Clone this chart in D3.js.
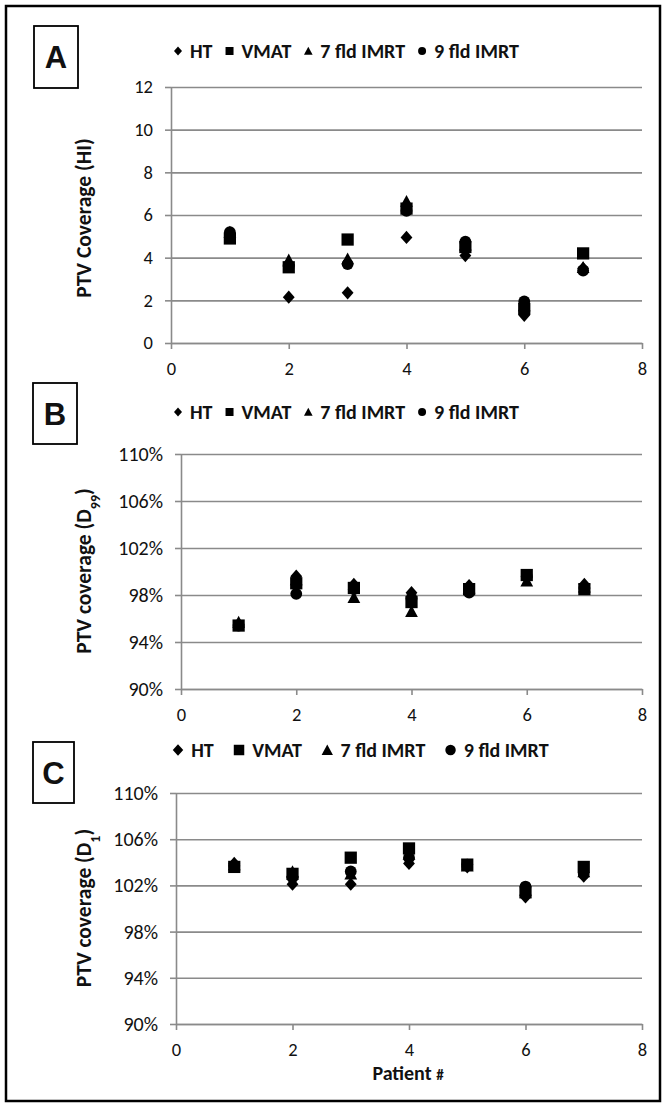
<!DOCTYPE html>
<html>
  <head>
    <meta charset="utf-8">
    <title>PTV coverage</title>
    <script src="https://d3js.org/d3.v7.min.js"></script>
    <style>
      body { margin: 0; background: #fff; }
      text { font-family: Carlito, Lato, "Open Sans", sans-serif; fill: #111; }
    </style>
  </head>
  <body>

  <script type="text/javascript">
    // data
    var patients = [1, 2, 3, 4, 5, 6, 7];
    var xTicks = [0, 2, 4, 6, 8];
    var hiTicks = [0, 2, 4, 6, 8, 10, 12];
    var pctTicks = [90, 94, 98, 102, 106, 110];
    var seriesNames = ['HT', 'VMAT', '7 fld IMRT', '9 fld IMRT'];

    // A: homogeneity index
    var hiHT   = [5.1, 2.15, 2.35, 4.95, 4.1, 1.3, 3.5];
    var hiVMAT = [4.9, 3.55, 4.85, 6.3, 4.5, 1.6, 4.2];
    var hi7fld = [5.2, 3.9, 3.95, 6.65, 4.6, 1.75, 3.55];
    var hi9fld = [5.2, 3.6, 3.7, 6.2, 4.75, 1.95, 3.4];

    // B: D99 (%)
    var d99HT   = [95.5, 99.6, 98.9, 98.2, 98.8, 99.5, 98.9];
    var d99VMAT = [95.4, 99.0, 98.6, 97.4, 98.5, 99.7, 98.5];
    var d997fld = [95.7, 99.3, 97.8, 96.6, 98.6, 99.2, 98.7];
    var d999fld = [95.4, 98.1, 98.5, 97.7, 98.2, 99.6, 98.6];

    // C: D1 (%)
    var d1HT   = [103.9, 102.1, 102.1, 103.9, 103.6, 101.0, 102.8];
    var d1VMAT = [103.6, 103.0, 104.4, 105.2, 103.8, 101.4, 103.6];
    var d17fld = [103.8, 103.2, 103.0, 104.7, 103.7, 101.6, 103.2];
    var d19fld = [103.7, 102.7, 103.2, 104.4, 103.8, 101.9, 103.0];

    var svg = d3.select('body')
                .append('svg')
                .attr('width', 665)
                .attr('height', 1106);

    svg.append('rect')
       .attr('x', 6).attr('y', 6)
       .attr('width', 654).attr('height', 1095)
       .attr('fill', '#fff')
       .attr('stroke', '#000')
       .attr('stroke-width', 2.5);

    /* marker shapes */
    var diamond = { draw: function(ctx, size) {
      var r = Math.sqrt(size) / 2;
      ctx.moveTo(0, -r * 1.12); ctx.lineTo(r, 0); ctx.lineTo(0, r * 1.12); ctx.lineTo(-r, 0); ctx.closePath();
    }};
    var square = { draw: function(ctx, size) {
      var r = Math.sqrt(size) / 2;
      ctx.rect(-r, -r, 2 * r, 2 * r);
    }};
    var triangle = { draw: function(ctx, size) {
      var r = Math.sqrt(size) / 2;
      ctx.moveTo(0, -r * 1.05); ctx.lineTo(r * 1.08, r * 0.95); ctx.lineTo(-r * 1.08, r * 0.95); ctx.closePath();
    }};
    var circle = { draw: function(ctx, size) {
      var r = Math.sqrt(size) / 2;
      ctx.moveTo(r, 0); ctx.arc(0, 0, r, 0, 2 * Math.PI);
    }};
    var shapes = [diamond, square, triangle, circle];

    var panels = [
      { letter: 'A', series: [hiHT, hiVMAT, hi7fld, hi9fld], ticks: hiTicks, domain: [0, 12], pct: false, tickFont: 18.5,
        x0: 171, x1: 642, top: 87, bottom: 343, box: [34, 26, 44, 62], legendY: 51, legendSize: 64, legendGap: 13,
        title: ['PTV Coverage (HI)'], titleY: 218 },
      { letter: 'B', series: [d99HT, d99VMAT, d997fld, d999fld], ticks: pctTicks, domain: [90, 110], pct: true, tickFont: 20,
        x0: 181, x1: 642, top: 454, bottom: 689, box: [33, 383, 44, 61], legendY: 412, legendSize: 64, legendGap: 13,
        title: ['PTV coverage (D', '99', ')'], titleY: 571 },
      { letter: 'C', series: [d1HT, d1VMAT, d17fld, d19fld], ticks: pctTicks, domain: [90, 110], pct: true, tickFont: 20,
        x0: 176, x1: 642, top: 793, bottom: 1024, box: [33, 742, 41, 61], legendY: 750, legendSize: 110, legendGap: 20,
        title: ['PTV coverage (D', '1', ')'], titleY: 908 }
    ];

    panels.forEach(function(p) {
      var g = svg.append('g');
      var x = d3.scaleLinear().domain([0, 8]).range([p.x0, p.x1]);
      var y = d3.scaleLinear().domain(p.domain).range([p.bottom, p.top]);

      // gridlines
      g.append('g')
       .attr('transform', 'translate(' + p.x0 + ',0)')
       .call(d3.axisLeft(y).tickValues(p.ticks).tickSize(-(p.x1 - p.x0)).tickFormat(''))
       .call(function(s) {
         s.select('.domain').remove();
         s.selectAll('line').attr('stroke', '#8a8a8a').attr('stroke-width', 1.6);
       });

      // y axis
      g.append('g')
       .attr('transform', 'translate(' + p.x0 + ',0)')
       .call(d3.axisLeft(y).tickValues(p.ticks).tickSizeInner(6).tickSizeOuter(0).tickPadding(12)
               .tickFormat(function(d) { return p.pct ? d + '%' : d; }))
       .call(function(s) {
         s.select('.domain').attr('stroke', '#8a8a8a').attr('stroke-width', 1.6);
         s.selectAll('line').attr('stroke', '#8a8a8a').attr('stroke-width', 1.6);
         s.selectAll('text').style('font-size', p.tickFont + 'px').attr('fill', '#111');
       });

      // x axis
      g.append('g')
       .attr('transform', 'translate(0,' + p.bottom + ')')
       .call(d3.axisBottom(x).tickValues(xTicks).tickSizeInner(6).tickSizeOuter(0).tickPadding(13))
       .call(function(s) {
         s.select('.domain').attr('stroke', '#8a8a8a').attr('stroke-width', 1.6);
         s.selectAll('line').attr('stroke', '#8a8a8a').attr('stroke-width', 1.6);
         s.selectAll('text').style('font-size', '18.5px').attr('fill', '#111');
       });

      // points
      p.series.forEach(function(vals, i) {
        g.append('g').selectAll('path')
         .data(vals)
         .enter()
         .append('path')
         .attr('transform', function(d, j) { return 'translate(' + x(patients[j]) + ',' + y(d) + ')'; })
         .attr('d', d3.symbol().type(shapes[i]).size(i === 1 ? 150 : 140))
         .attr('fill', '#000');
      });

      // letter box
      g.append('rect')
       .attr('x', p.box[0]).attr('y', p.box[1])
       .attr('width', p.box[2]).attr('height', p.box[3])
       .attr('fill', 'none').attr('stroke', '#000').attr('stroke-width', 1.8);
      g.append('text')
       .attr('x', p.box[0] + p.box[2] / 2)
       .attr('y', p.box[1] + p.box[3] / 2 + 11)
       .attr('text-anchor', 'middle')
       .style('font-family', '"Liberation Sans", Arial, sans-serif')
       .style('font-weight', 'bold')
       .style('font-size', '31px')
       .text(p.letter);

      // legend
      var lx = 178;
      seriesNames.forEach(function(name, i) {
        var half = Math.sqrt(p.legendSize) / 2;
        g.append('path')
         .attr('transform', 'translate(' + lx + ',' + p.legendY + ')')
         .attr('d', d3.symbol().type(shapes[i]).size(p.legendSize))
         .attr('fill', '#000');
        var t = g.append('text')
         .attr('x', lx + half + 8)
         .attr('y', p.legendY + 7)
         .style('font-weight', 'bold')
         .style('font-size', '20px')
         .text(name);
        lx += half + 8 + t.node().getComputedTextLength() + p.legendGap + half;
      });

      // y title
      var tt = g.append('text')
       .attr('transform', 'translate(91,' + p.titleY + ') rotate(-90)')
       .attr('text-anchor', 'middle')
       .style('font-weight', 'bold')
       .style('font-size', '21.5px');
      tt.append('tspan').text(p.title[0]);
      if (p.title.length > 1) {
        tt.append('tspan').attr('baseline-shift', 'sub').style('font-size', '14px').text(p.title[1]);
        tt.append('tspan').text(p.title[2]);
      }
    });

    var xl = svg.append('text')
       .attr('x', 408).attr('y', 1080)
       .attr('text-anchor', 'middle')
       .style('font-weight', 'bold')
       .style('font-size', '20px');
    xl.append('tspan').text('Patient ');
    xl.append('tspan').style('font-size', '15px').text('#');
  </script>
  </body>
</html>
